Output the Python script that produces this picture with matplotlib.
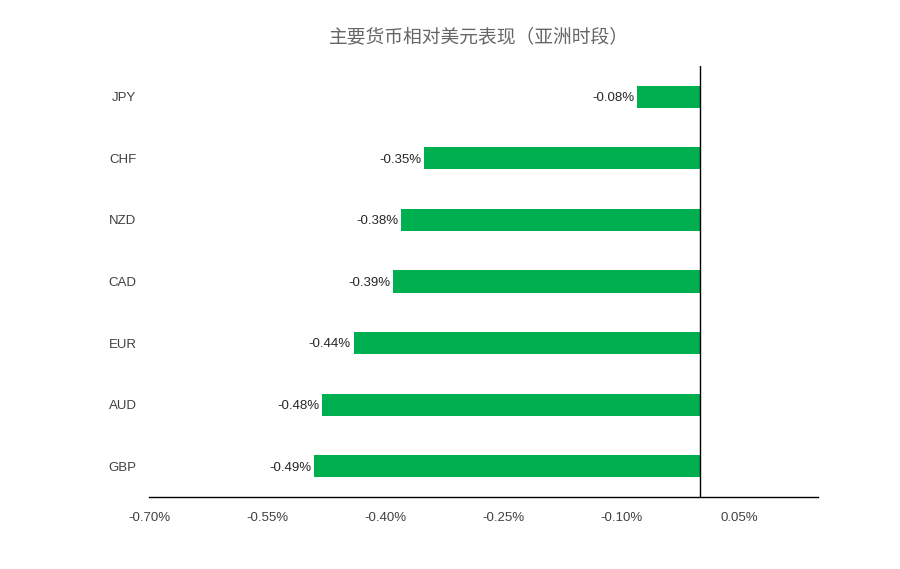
import matplotlib.pyplot as plt
from matplotlib.ticker import FuncFormatter

# currencies top to bottom, change vs USD in %
currencies = ["JPY", "CHF", "NZD", "CAD", "EUR", "AUD", "GBP"]
changes = [-0.08, -0.35, -0.38, -0.39, -0.44, -0.48, -0.49]
x_ticks = [-0.70, -0.55, -0.40, -0.25, -0.10, 0.05]
title = "主要货币相对美元表现（亚洲时段）"

plt.rcParams["font.family"] = ["Liberation Sans", "Noto Sans CJK SC", "DejaVu Sans"]

fig = plt.figure(figsize=(9, 5.69), dpi=100)
ax = fig.add_axes([149 / 900, 72 / 569, 669 / 900, 431 / 569])

ypos = list(range(len(currencies)))
ax.barh(ypos, changes, height=0.36, color="#00B050", zorder=2)

for y, v in zip(ypos, changes):
    ax.annotate(f"{v:.2f}%", (v, y), xytext=(-2, -1), textcoords="offset points",
                ha="right", va="center", fontsize=9.5, color="#262626")

ax.set_xlim(-0.70, 0.15)
ax.set_ylim(len(currencies) - 0.5, -0.5)
ax.set_xticks(x_ticks)
ax.xaxis.set_major_formatter(FuncFormatter(lambda v, p: f"{v:.2f}%"))
ax.set_yticks(ypos)
ax.set_yticklabels(currencies)

ax.tick_params(axis="x", length=0, pad=11, labelsize=9.5, labelcolor="#404040")
ax.tick_params(axis="y", length=0, pad=9, labelsize=9.5, labelcolor="#404040")

for side in ["left", "right", "top"]:
    ax.spines[side].set_visible(False)
ax.spines["bottom"].set_color("black")
ax.spines["bottom"].set_linewidth(1.0)
ax.axvline(0, color="black", linewidth=1.0, zorder=3)

fig.text(479 / 900, 1 - 37 / 569, title, ha="center", va="center",
         fontsize=13.5, color="#666666", family=["Noto Sans CJK SC", "DejaVu Sans"])

fig.savefig("out.png", dpi=100)
